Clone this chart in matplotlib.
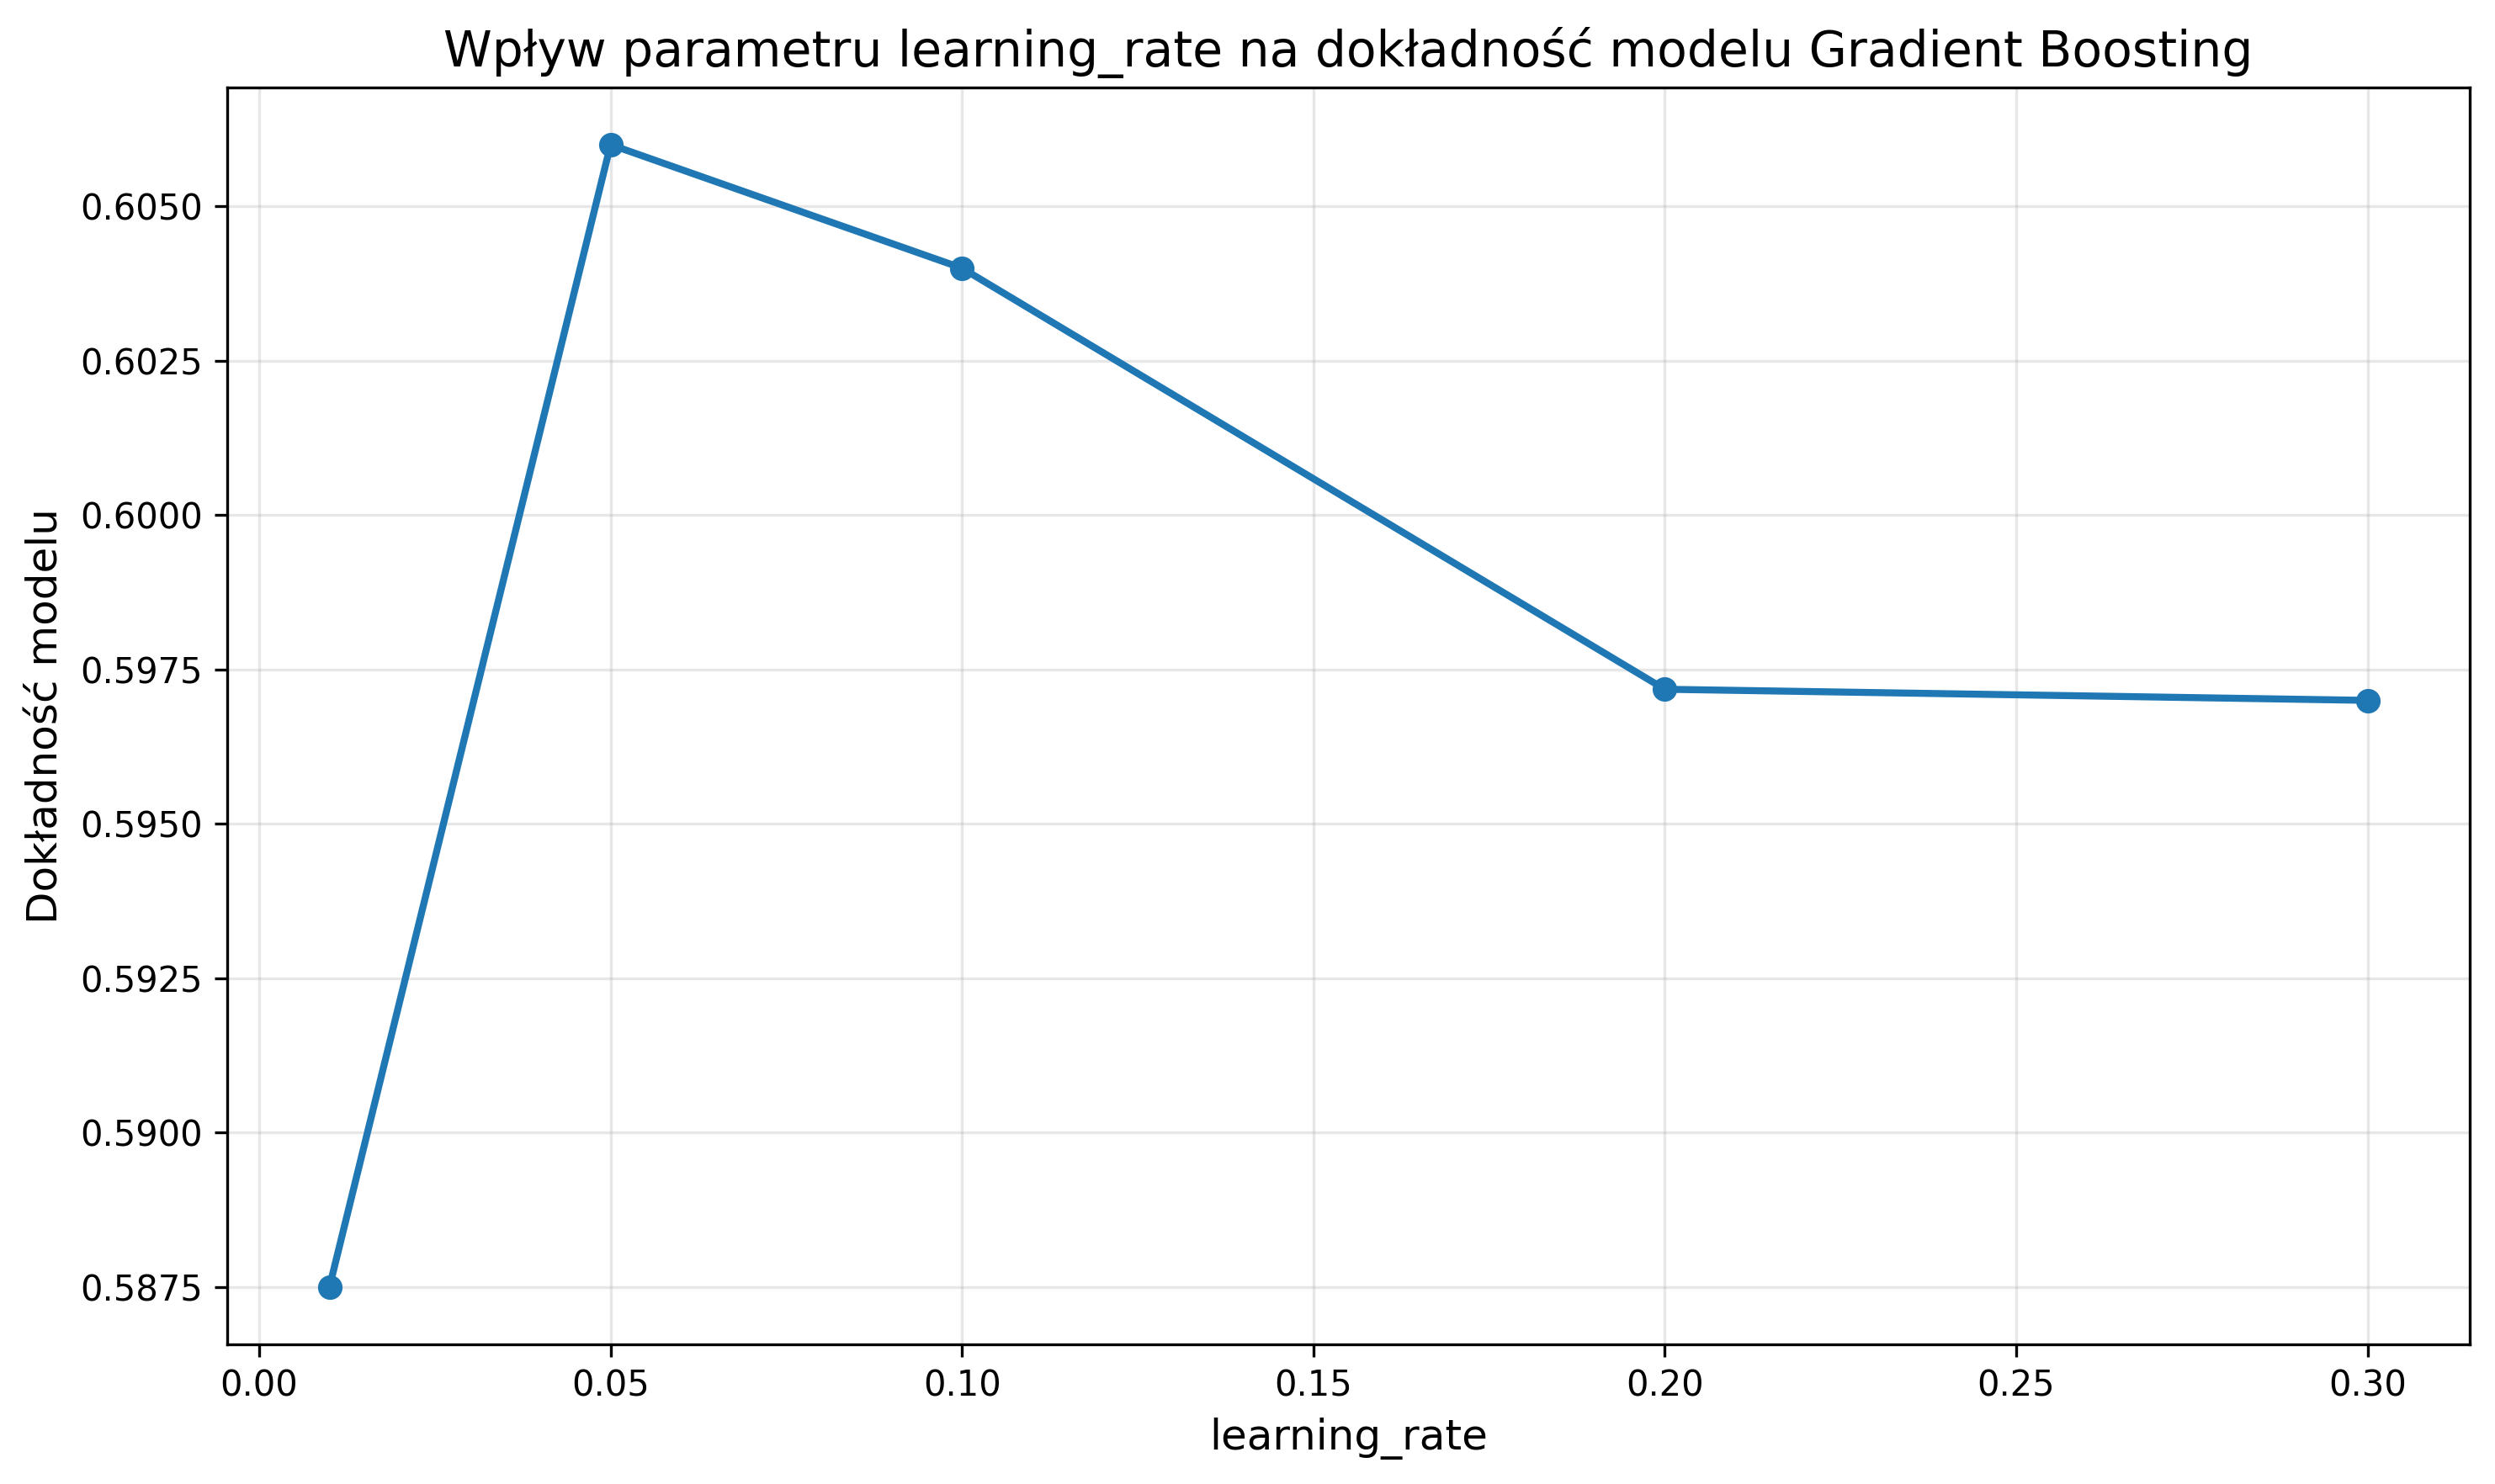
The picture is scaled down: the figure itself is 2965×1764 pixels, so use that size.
import matplotlib
matplotlib.use("Agg")
import matplotlib.pyplot as plt

# Dane: learning_rate vs dokładność
learning_rates = [0.01, 0.05, 0.10, 0.20, 0.30]
accuracy = [0.5875, 0.6060, 0.6040, 0.59718, 0.5970]

fig = plt.figure(figsize=(2965 / 300, 1764 / 300), dpi=300)
plt.plot(learning_rates, accuracy, marker='o', linewidth=2)
plt.title("Wpływ parametru learning_rate na dokładność modelu Gradient Boosting", fontsize=14)
plt.xlabel("learning_rate", fontsize=12)
plt.ylabel("Dokładność modelu", fontsize=12)
plt.grid(True, alpha=0.3)
plt.subplots_adjust(left=0.0912, right=0.9898, top=0.941, bottom=0.0943)
plt.savefig("out.png", dpi=300)
